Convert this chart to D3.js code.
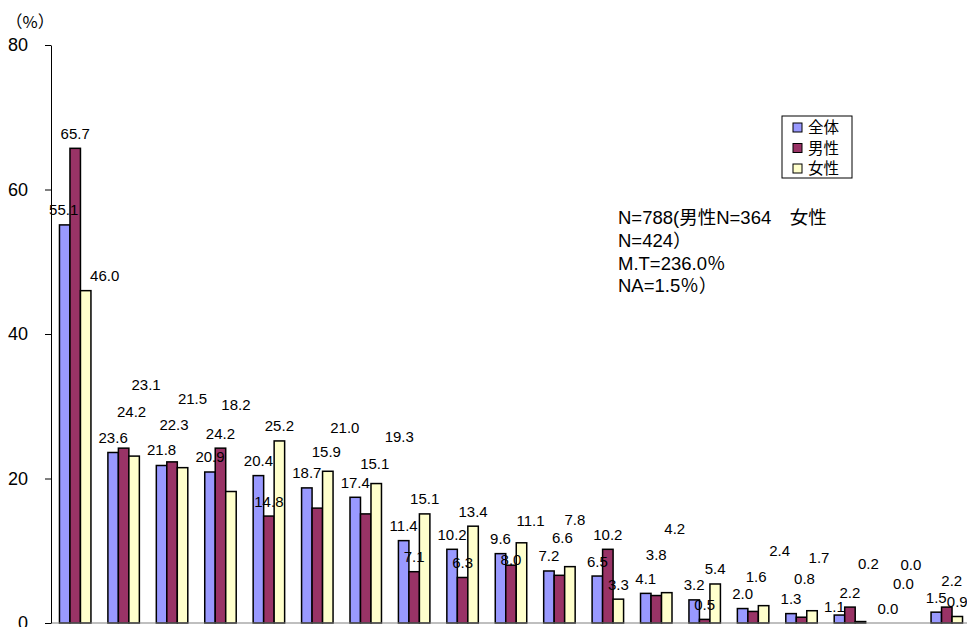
<!DOCTYPE html>
<html>
<head>
<meta charset="utf-8">
<script src="https://cdn.jsdelivr.net/npm/d3@7/dist/d3.min.js"></script>
<style>
  html, body { margin: 0; padding: 0; background: #fff; }
  svg { display: block; font-family: "Liberation Sans", Arial, "Noto Sans CJK JP", sans-serif; }
</style>
</head>
<body>
<svg id="chart" width="967" height="627"></svg>
<script>
// Items (19 response choices, unlabeled on the axis)
const categories = d3.range(1, 20).map(String);
const seriesNames = ["全体", "男性", "女性"];

// Percentages per item
const totalValues  = [55.1, 23.6, 21.8, 20.9, 20.4, 18.7, 17.4, 11.4, 10.2, 9.6, 7.2, 6.5, 4.1, 3.2, 2.0, 1.3, 1.1, 0.0, 1.5];
const maleValues   = [65.7, 24.2, 22.3, 24.2, 14.8, 15.9, 15.1, 7.1, 6.3, 8.0, 6.6, 10.2, 3.8, 0.5, 1.6, 0.8, 2.2, 0.0, 2.2];
const femaleValues = [46.0, 23.1, 21.5, 18.2, 25.2, 21.0, 19.3, 15.1, 13.4, 11.1, 7.8, 3.3, 4.2, 5.4, 2.4, 1.7, 0.2, 0.0, 0.9];

const yTicks = [0, 20, 40, 60, 80];

const noteLines = ["N=788(男性N=364　女性", "N=424）", "M.T=236.0％", "NA=1.5％）"];

// Hand-moved data labels: pixel nudges from the default spot above each bar
const totalNudge  = [[-1,0],[0,0],[0,-1],[0,0],[0,0],[0,0],[0,0],[0,0],[0,0],[0,0],[0,0],[0,0],[0,0],[0,0],[0,0],[0,0],[-5,6],[0,0],[0,0]];
const maleNudge   = [[0,0],[8,-22],[2,-22],[0,0],[0,0],[9,-42],[9,-35],[0,0],[0,0],[0,9],[3,-23],[0,0],[0,-26],[0,0],[3,-20],[3,-24],[0,0],[5,-25],[5,-12]];
const femaleNudge = [[19,0],[12,-57],[10,-54],[5,-72],[0,0],[17,-29],[23,-32],[0,0],[0,0],[9,-7],[5,-32],[0,0],[8,-49],[0,0],[16,-40],[7,-38],[8,-43],[2,-44],[0,0]];

const colors = ["#9999FF", "#993366", "#FFFFCC"];

const series = [
  { name: seriesNames[0], values: totalValues,  nudge: totalNudge,  color: colors[0] },
  { name: seriesNames[1], values: maleValues,   nudge: maleNudge,   color: colors[1] },
  { name: seriesNames[2], values: femaleValues, nudge: femaleNudge, color: colors[2] }
];

const svg = d3.select("#chart");
const plot = { left: 51, right: 971, top: 45, bottom: 623 };

const x = d3.scaleBand().domain(categories).range([plot.left, plot.right]).paddingInner(0.35).paddingOuter(0.175);
const xs = d3.scaleBand().domain(seriesNames).range([0, x.bandwidth()]);
const y = d3.scaleLinear().domain([0, 80]).range([plot.bottom, plot.top]);

const cells = series.flatMap(s => s.values.map((v, i) => ({ s, v, i })));

// Bars
svg.append("g").selectAll("rect")
  .data(cells)
  .join("rect")
  .attr("x", d => x(categories[d.i]) + xs(d.s.name))
  .attr("y", d => y(d.v))
  .attr("width", xs.bandwidth())
  .attr("height", d => y(0) - y(d.v))
  .attr("fill", d => d.s.color)
  .attr("stroke", "#000")
  .attr("stroke-width", 1.5);

// X baseline
svg.append("line")
  .attr("x1", plot.left).attr("x2", plot.right)
  .attr("y1", y(0)).attr("y2", y(0))
  .attr("stroke", "#808080").attr("stroke-width", 1.2);

// Y axis
const yAxis = svg.append("g")
  .attr("transform", `translate(${plot.left},0)`)
  .call(d3.axisLeft(y).tickValues(yTicks).tickSize(6).tickPadding(17).tickSizeOuter(0));
yAxis.select(".domain").attr("stroke", "#000");
yAxis.selectAll(".tick line").attr("stroke", "#000");
yAxis.selectAll(".tick text")
  .attr("font-size", 18)
  .attr("fill", "#000")
  .attr("font-family", "'Liberation Sans', Arial, sans-serif");

svg.append("text")
  .attr("x", 6).attr("y", 28)
  .attr("font-size", 16.5)
  .attr("font-family", "'Noto Sans CJK JP', sans-serif")
  .text("（%）");

// Value labels, drawn above every bar
svg.append("g").selectAll("text")
  .data(cells)
  .join("text")
  .attr("x", d => x(categories[d.i]) + xs(d.s.name) + xs.bandwidth() / 2 + d.s.nudge[d.i][0])
  .attr("y", d => y(d.v) - 9.5 + d.s.nudge[d.i][1])
  .attr("text-anchor", "middle")
  .attr("font-size", 15)
  .attr("fill", "#000")
  .text(d => d.v.toFixed(1));

// Legend
const legend = svg.append("g").attr("transform", "translate(782,116)");
legend.append("rect")
  .attr("width", 70).attr("height", 62)
  .attr("fill", "#fff").attr("stroke", "#000").attr("stroke-width", 1);
const li = legend.selectAll("g.item").data(series).join("g")
  .attr("class", "item")
  .attr("transform", (d, i) => `translate(11,${6 + i * 20.5})`);
li.append("rect")
  .attr("y", 1)
  .attr("width", 9).attr("height", 9)
  .attr("fill", d => d.color).attr("stroke", "#000").attr("stroke-width", 1);
li.append("text")
  .attr("x", 15).attr("y", 11)
  .attr("font-size", 15.5)
  .attr("font-family", "'Noto Sans CJK JP', sans-serif")
  .text(d => d.name);

// Sample note
svg.append("g").selectAll("text")
  .data(noteLines).join("text")
  .attr("x", 618)
  .attr("y", (d, i) => 224 + i * 22.8)
  .attr("font-size", 18.5)
  .attr("font-family", "'Liberation Sans', Arial, 'Noto Sans CJK JP', sans-serif")
  .text(d => d);
</script>
</body>
</html>
